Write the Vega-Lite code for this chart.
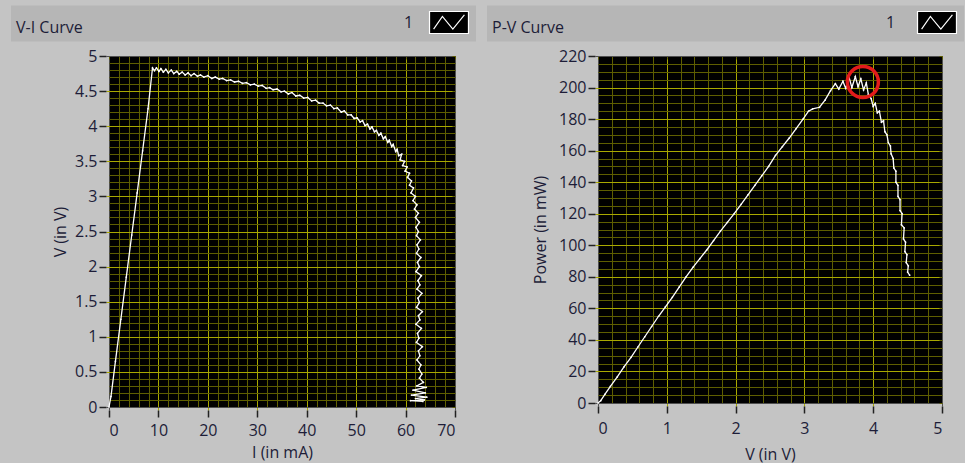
{
  "$schema": "https://vega.github.io/schema/vega-lite/v6.json",
  "background": "#c4c4c4",
  "padding": {"left": 10, "top": 5, "right": 0, "bottom": 0},
  "bounds": "flush",
  "spacing": 143,
  "datasets": {
    "vi": [
      {"i": 0, "v": 0}, {"i": 0.4, "v": 0.15}, {"i": 1.3, "v": 0.65}, {"i": 2.4, "v": 1.25}, {"i": 3.5, "v": 1.85},
      {"i": 4.6, "v": 2.45}, {"i": 5.7, "v": 3.05}, {"i": 6.8, "v": 3.65}, {"i": 7.9, "v": 4.25}, {"i": 8.8, "v": 4.83},
      {"i": 9.2, "v": 4.79}, {"i": 9.6, "v": 4.83}, {"i": 10.1, "v": 4.78}, {"i": 10.5, "v": 4.82}, {"i": 11, "v": 4.77},
      {"i": 11.5, "v": 4.81}, {"i": 12, "v": 4.76}, {"i": 12.6, "v": 4.8}, {"i": 13.1, "v": 4.75}, {"i": 13.7, "v": 4.78},
      {"i": 14.2, "v": 4.74}, {"i": 14.8, "v": 4.77}, {"i": 15.4, "v": 4.73}, {"i": 16, "v": 4.76}, {"i": 16.6, "v": 4.72},
      {"i": 17.2, "v": 4.75}, {"i": 17.9, "v": 4.71}, {"i": 18.5, "v": 4.73}, {"i": 19.2, "v": 4.7}, {"i": 20, "v": 4.72},
      {"i": 20.8, "v": 4.68}, {"i": 21.5, "v": 4.7}, {"i": 22.3, "v": 4.67}, {"i": 23, "v": 4.68}, {"i": 23.8, "v": 4.65},
      {"i": 24.6, "v": 4.66}, {"i": 25.4, "v": 4.63}, {"i": 26.2, "v": 4.64}, {"i": 27, "v": 4.61}, {"i": 27.8, "v": 4.62},
      {"i": 28.6, "v": 4.59}, {"i": 29.4, "v": 4.6}, {"i": 30.2, "v": 4.57}, {"i": 31, "v": 4.58}, {"i": 31.8, "v": 4.54},
      {"i": 32.5, "v": 4.55}, {"i": 33.2, "v": 4.52}, {"i": 34, "v": 4.53}, {"i": 34.8, "v": 4.49}, {"i": 35.5, "v": 4.5},
      {"i": 36.3, "v": 4.46}, {"i": 37, "v": 4.48}, {"i": 37.8, "v": 4.43}, {"i": 38.6, "v": 4.44}, {"i": 39.4, "v": 4.4},
      {"i": 40.2, "v": 4.41}, {"i": 41, "v": 4.36}, {"i": 41.8, "v": 4.37}, {"i": 42.5, "v": 4.33}, {"i": 43.3, "v": 4.33},
      {"i": 44, "v": 4.29}, {"i": 44.8, "v": 4.3}, {"i": 45.5, "v": 4.25}, {"i": 46.2, "v": 4.26}, {"i": 47, "v": 4.2},
      {"i": 47.6, "v": 4.22}, {"i": 48.3, "v": 4.16}, {"i": 49, "v": 4.16}, {"i": 49.6, "v": 4.11}, {"i": 50.2, "v": 4.12},
      {"i": 50.8, "v": 4.06}, {"i": 51.3, "v": 4.08}, {"i": 51.8, "v": 4.01}, {"i": 52.3, "v": 4.03}, {"i": 52.8, "v": 3.96},
      {"i": 53.2, "v": 3.99}, {"i": 53.7, "v": 3.92}, {"i": 54.1, "v": 3.94}, {"i": 54.6, "v": 3.87}, {"i": 55, "v": 3.9},
      {"i": 55.5, "v": 3.82}, {"i": 55.9, "v": 3.85}, {"i": 56.4, "v": 3.77}, {"i": 56.7, "v": 3.8}, {"i": 57.2, "v": 3.71},
      {"i": 57.5, "v": 3.74}, {"i": 58, "v": 3.64}, {"i": 58.3, "v": 3.67}, {"i": 58.6, "v": 3.58}, {"i": 59.2, "v": 3.6},
      {"i": 58.9, "v": 3.52}, {"i": 59.8, "v": 3.5}, {"i": 59.4, "v": 3.44}, {"i": 60.3, "v": 3.42}, {"i": 59.9, "v": 3.36},
      {"i": 60.8, "v": 3.33}, {"i": 60.4, "v": 3.27}, {"i": 61.2, "v": 3.22}, {"i": 60.8, "v": 3.16}, {"i": 61.6, "v": 3.12},
      {"i": 61.1, "v": 3.05}, {"i": 62, "v": 3.0}, {"i": 61.5, "v": 2.94}, {"i": 62.3, "v": 2.88}, {"i": 61.8, "v": 2.82},
      {"i": 62.6, "v": 2.76}, {"i": 62, "v": 2.7}, {"i": 62.8, "v": 2.63}, {"i": 62.1, "v": 2.56}, {"i": 62.6, "v": 2.5},
      {"i": 62.2, "v": 2.44}, {"i": 63, "v": 2.38}, {"i": 62.3, "v": 2.31}, {"i": 62.7, "v": 2.25}, {"i": 62.2, "v": 2.19},
      {"i": 63.1, "v": 2.13}, {"i": 62.4, "v": 2.06}, {"i": 62.8, "v": 2.0}, {"i": 62.1, "v": 1.93}, {"i": 63.2, "v": 1.87},
      {"i": 62.5, "v": 1.8}, {"i": 62.9, "v": 1.74}, {"i": 62.3, "v": 1.68}, {"i": 63.3, "v": 1.62}, {"i": 62.5, "v": 1.55},
      {"i": 62.8, "v": 1.49}, {"i": 62.2, "v": 1.42}, {"i": 63.4, "v": 1.36}, {"i": 62.6, "v": 1.3}, {"i": 62.9, "v": 1.24},
      {"i": 62.1, "v": 1.18}, {"i": 63.2, "v": 1.12}, {"i": 62.4, "v": 1.05}, {"i": 62.7, "v": 0.98}, {"i": 62.2, "v": 0.92},
      {"i": 63.4, "v": 0.86}, {"i": 62.6, "v": 0.8}, {"i": 62.9, "v": 0.73}, {"i": 62.3, "v": 0.67}, {"i": 63.1, "v": 0.6},
      {"i": 62.7, "v": 0.54}, {"i": 63.3, "v": 0.47}, {"i": 62.8, "v": 0.41}, {"i": 63.6, "v": 0.35}, {"i": 62.3, "v": 0.3},
      {"i": 64.2, "v": 0.28}, {"i": 61.5, "v": 0.24}, {"i": 64, "v": 0.2}, {"i": 61.2, "v": 0.17}, {"i": 64.3, "v": 0.14},
      {"i": 62, "v": 0.12}, {"i": 63.8, "v": 0.1}, {"i": 61, "v": 0.09}, {"i": 63.5, "v": 0.08}
    ],
    "pv": [
      {"v": 0, "p": 0}, {"v": 0.04, "p": 1.5}, {"v": 0.1, "p": 5.5}, {"v": 0.18, "p": 10.5}, {"v": 0.28, "p": 16.5},
      {"v": 0.38, "p": 23}, {"v": 0.48, "p": 29}, {"v": 0.58, "p": 35.5}, {"v": 0.68, "p": 42}, {"v": 0.78, "p": 48.5},
      {"v": 0.88, "p": 55}, {"v": 0.98, "p": 61}, {"v": 1.08, "p": 67}, {"v": 1.18, "p": 73.5}, {"v": 1.28, "p": 80},
      {"v": 1.38, "p": 86}, {"v": 1.48, "p": 91.5}, {"v": 1.58, "p": 97}, {"v": 1.68, "p": 103}, {"v": 1.78, "p": 109},
      {"v": 1.88, "p": 114.5}, {"v": 1.98, "p": 120}, {"v": 2.08, "p": 126}, {"v": 2.18, "p": 132}, {"v": 2.28, "p": 138},
      {"v": 2.38, "p": 144}, {"v": 2.48, "p": 150}, {"v": 2.58, "p": 157}, {"v": 2.68, "p": 162.5}, {"v": 2.78, "p": 168},
      {"v": 2.88, "p": 174}, {"v": 2.98, "p": 180}, {"v": 3.06, "p": 185}, {"v": 3.12, "p": 186.5}, {"v": 3.22, "p": 187.5},
      {"v": 3.3, "p": 192}, {"v": 3.38, "p": 198}, {"v": 3.45, "p": 202.5}, {"v": 3.5, "p": 199}, {"v": 3.56, "p": 204},
      {"v": 3.6, "p": 199.5}, {"v": 3.65, "p": 206.5}, {"v": 3.69, "p": 200}, {"v": 3.74, "p": 207}, {"v": 3.78, "p": 200.5},
      {"v": 3.82, "p": 205.5}, {"v": 3.86, "p": 198.5}, {"v": 3.9, "p": 203}, {"v": 3.93, "p": 195.5}, {"v": 3.97, "p": 193},
      {"v": 4.0, "p": 188}, {"v": 4.03, "p": 190}, {"v": 4.06, "p": 184}, {"v": 4.09, "p": 185}, {"v": 4.12, "p": 178},
      {"v": 4.15, "p": 179}, {"v": 4.17, "p": 172}, {"v": 4.2, "p": 170}, {"v": 4.22, "p": 165}, {"v": 4.25, "p": 163},
      {"v": 4.26, "p": 158}, {"v": 4.29, "p": 155}, {"v": 4.3, "p": 149}, {"v": 4.33, "p": 147}, {"v": 4.33, "p": 140},
      {"v": 4.36, "p": 138}, {"v": 4.36, "p": 131}, {"v": 4.39, "p": 129}, {"v": 4.39, "p": 122}, {"v": 4.42, "p": 120},
      {"v": 4.41, "p": 113}, {"v": 4.45, "p": 111}, {"v": 4.44, "p": 104}, {"v": 4.47, "p": 102}, {"v": 4.46, "p": 96},
      {"v": 4.49, "p": 94}, {"v": 4.48, "p": 89}, {"v": 4.51, "p": 87}, {"v": 4.5, "p": 83}, {"v": 4.53, "p": 81}
    ],
    "mpp": [{"v": 3.85, "p": 203.5}]
  },
  "hconcat": [
    {
      "width": 346,
      "height": 351,
      "data": {"name": "vi"},
      "layer": [
        {
          "mark": {"type": "line", "strokeWidth": 1.3},
          "encoding": {
            "x": {
              "field": "i", "type": "quantitative",
              "scale": {"domain": [0, 70], "nice": false},
              "axis": {
                "orient": "bottom", "offset": 0, "grid": true, "labels": false, "ticks": false, "title": null,
                "gridColor": "#5e5e00",
                "values": [0, 2, 4, 6, 8, 10, 12, 14, 16, 18, 20, 22, 24, 26, 28, 30, 32, 34, 36, 38, 40, 42, 44, 46, 48, 50, 52, 54, 56, 58, 60, 62, 64, 66, 68, 70]
              }
            },
            "y": {
              "field": "v", "type": "quantitative",
              "scale": {"domain": [0, 5], "nice": false},
              "axis": {
                "orient": "left", "offset": 0, "grid": true, "labels": false, "ticks": false, "title": null,
                "gridColor": "#5e5e00",
                "values": [0, 0.1, 0.2, 0.3, 0.4, 0.5, 0.6, 0.7, 0.8, 0.9, 1, 1.1, 1.2, 1.3, 1.4, 1.5, 1.6, 1.7, 1.8, 1.9, 2, 2.1, 2.2, 2.3, 2.4, 2.5, 2.6, 2.7, 2.8, 2.9, 3, 3.1, 3.2, 3.3, 3.4, 3.5, 3.6, 3.7, 3.8, 3.9, 4, 4.1, 4.2, 4.3, 4.4, 4.5, 4.6, 4.7, 4.8, 4.9, 5]
              }
            },
            "order": {"value": null},
            "color": {
              "datum": "1", "type": "nominal",
              "scale": {"domain": ["1"], "range": ["#ffffff"]},
              "legend": {
                "orient": "none", "legendX": -98, "legendY": -50.5,
                "title": "V-I Curve", "titleOrient": "left", "titlePadding": 295.5,
                "titleAnchor": "end", "titleBaseline": "bottom",
                "padding": 5, "fillColor": "#b6b6b6",
                "symbolOffset": 58.5, "labelOffset": -57,
                "symbolSize": 484, "symbolStrokeWidth": 1.2,
                "encode": {"symbols": {"update": {
                  "shape": {"value": "M-1.77,-1H1.77V1H-1.77Z M-1.4,0.6L-0.6,-0.55L0.35,0.6L1.4,-0.7L0.35,0.6L-0.6,-0.55Z"},
                  "size": {"value": 484},
                  "fill": {"value": "#000000"},
                  "stroke": {"value": "#ffffff"},
                  "strokeWidth": {"value": 1.2},
                  "opacity": {"value": 1}
                }}}
              }
            }
          }
        },
        {
          "mark": {"type": "point", "filled": true, "size": 3, "opacity": 1, "color": "#ffffff"},
          "encoding": {
            "x": {
              "field": "i", "type": "quantitative",
              "axis": {
                "orient": "bottom", "title": "I (in mA)", "titlePadding": 6, "labelPadding": 5,
                "values": [0, 10, 20, 30, 40, 50, 60, 70],
                "grid": true,
                "gridColor": {"condition": {"test": "datum.value == 0 || datum.value == 70", "value": "#505050"}, "value": "#a8a800"}
              }
            },
            "y": {
              "field": "v", "type": "quantitative",
              "axis": {
                "orient": "left", "title": "V (in V)", "titlePadding": 6, "format": ".1~f",
                "values": [0, 0.5, 1, 1.5, 2, 2.5, 3, 3.5, 4, 4.5, 5],
                "grid": true,
                "gridColor": {"condition": {"test": "datum.value == 0 || datum.value == 5", "value": "#505050"}, "value": "#a8a800"}
              }
            }
          }
        }
      ],
      "resolve": {"axis": {"x": "independent", "y": "independent"}}
    },
    {
      "width": 344,
      "height": 347,
      "layer": [
        {
          "data": {"name": "pv"},
          "mark": {"type": "line", "strokeWidth": 1.3},
          "encoding": {
            "x": {
              "field": "v", "type": "quantitative",
              "scale": {"domain": [0, 5], "nice": false},
              "axis": {
                "orient": "bottom", "offset": 0, "grid": true, "labels": false, "ticks": false, "title": null,
                "gridColor": "#5e5e00",
                "values": [0, 0.2, 0.4, 0.6, 0.8, 1, 1.2, 1.4, 1.6, 1.8, 2, 2.2, 2.4, 2.6, 2.8, 3, 3.2, 3.4, 3.6, 3.8, 4, 4.2, 4.4, 4.6, 4.8, 5]
              }
            },
            "y": {
              "field": "p", "type": "quantitative",
              "scale": {"domain": [0, 220], "nice": false},
              "axis": {
                "orient": "left", "offset": 0, "grid": true, "labels": false, "ticks": false, "title": null,
                "gridColor": "#5e5e00",
                "values": [0, 5, 10, 15, 20, 25, 30, 35, 40, 45, 50, 55, 60, 65, 70, 75, 80, 85, 90, 95, 100, 105, 110, 115, 120, 125, 130, 135, 140, 145, 150, 155, 160, 165, 170, 175, 180, 185, 190, 195, 200, 205, 210, 215, 220]
              }
            },
            "order": {"value": null},
            "color": {
              "datum": "1", "type": "nominal",
              "scale": {"domain": ["1"], "range": ["#ffffff"]},
              "legend": {
                "orient": "none", "legendX": -111, "legendY": -50.5,
                "title": "P-V Curve", "titleOrient": "left", "titlePadding": 298,
                "titleAnchor": "end", "titleBaseline": "bottom",
                "padding": 5, "fillColor": "#b6b6b6",
                "symbolOffset": 63, "labelOffset": -63,
                "symbolSize": 484, "symbolStrokeWidth": 1.2,
                "encode": {"symbols": {"update": {
                  "shape": {"value": "M-1.77,-1H1.77V1H-1.77Z M-1.4,0.6L-0.6,-0.55L0.35,0.6L1.4,-0.7L0.35,0.6L-0.6,-0.55Z"},
                  "size": {"value": 484},
                  "fill": {"value": "#000000"},
                  "stroke": {"value": "#ffffff"},
                  "strokeWidth": {"value": 1.2},
                  "opacity": {"value": 1}
                }}}
              }
            }
          }
        },
        {
          "data": {"name": "pv"},
          "mark": {"type": "point", "filled": true, "size": 3, "opacity": 1, "color": "#ffffff"},
          "encoding": {
            "x": {
              "field": "v", "type": "quantitative",
              "axis": {
                "orient": "bottom", "title": "V (in V)", "titlePadding": 10, "labelPadding": 7,
                "values": [0, 1, 2, 3, 4, 5],
                "grid": true,
                "gridColor": {"condition": {"test": "datum.value == 0 || datum.value == 5", "value": "#505050"}, "value": "#a8a800"}
              }
            },
            "y": {
              "field": "p", "type": "quantitative",
              "axis": {
                "orient": "left", "title": "Power (in mW)", "titlePadding": 10,
                "values": [0, 20, 40, 60, 80, 100, 120, 140, 160, 180, 200, 220],
                "grid": true,
                "gridColor": {"condition": {"test": "datum.value == 0 || datum.value == 220", "value": "#505050"}, "value": "#a8a800"}
              }
            }
          }
        },
        {
          "data": {"name": "mpp"},
          "mark": {"type": "point", "shape": "circle", "filled": false, "size": 961, "stroke": "#e31b1b", "strokeWidth": 3.5, "opacity": 1},
          "encoding": {
            "x": {"field": "v", "type": "quantitative", "axis": null},
            "y": {"field": "p", "type": "quantitative", "axis": null}
          }
        }
      ],
      "resolve": {"axis": {"x": "independent", "y": "independent"}}
    }
  ],
  "resolve": {"scale": {"color": "independent"}, "legend": {"color": "independent"}},
  "config": {
    "font": "Open Sans",
    "view": {"fill": "#000000", "stroke": "#505050", "strokeWidth": 1},
    "axis": {
      "domain": false,
      "labelFont": "Open Sans", "labelFontSize": 16, "labelColor": "#1d1d38", "labelPadding": 2,
      "titleFont": "Open Sans", "titleFontSize": 16, "titleFontWeight": "normal", "titleColor": "#1d1d38",
      "tickColor": "#222222", "tickWidth": 1.5, "tickSize": 7, "offset": 3, "gridWidth": 1
    },
    "legend": {
      "labelFont": "Open Sans", "labelFontSize": 16, "labelColor": "#1d1d38",
      "titleFont": "Open Sans", "titleFontSize": 16, "titleFontWeight": "normal", "titleColor": "#1d1d38"
    }
  }
}
